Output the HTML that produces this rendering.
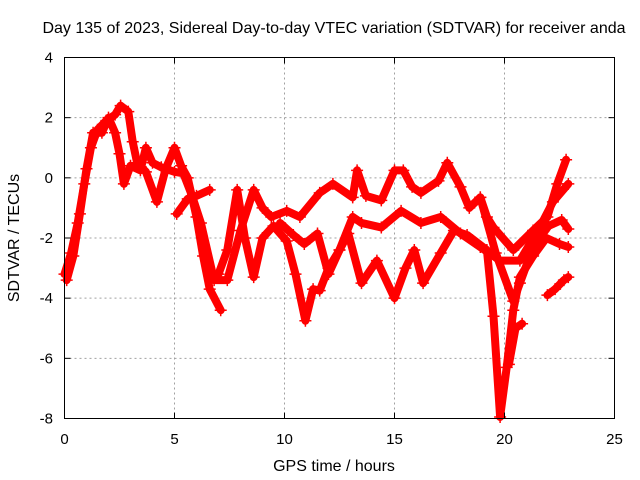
<!DOCTYPE html>
<html><head><meta charset="utf-8"><style>
html,body{margin:0;padding:0;background:#fff}
svg{display:block;font-family:"Liberation Sans",sans-serif}
</style></head><body>
<svg id="chart" width="640" height="480" viewBox="0 0 640 480" xmlns="http://www.w3.org/2000/svg">
<rect width="640" height="480" fill="#fff"/>
<text x="334" y="33" font-size="16" text-anchor="middle">Day 135 of 2023, Sidereal Day-to-day VTEC variation (SDTVAR) for receiver anda</text>
<g id="grid"></g>
<g id="series" fill="none" stroke="#ff0000"></g>
<rect x="64.5" y="57.5" width="550" height="361" fill="none" stroke="#000" stroke-width="1"/>
<g id="ticks"></g>
<text x="334" y="471" font-size="16" text-anchor="middle">GPS time / hours</text>
<text transform="translate(19,238) rotate(-90)" font-size="16" text-anchor="middle">SDTVAR / TECUs</text>
</svg>
<script>
const xTicks=[0,5,10,15,20,25];
const yTicks=[4,2,0,-2,-4,-6,-8];
const track1=[[0,-3.2],[0.3,-2.5],[0.6,-1.5],[0.9,-0.2],[1.2,1.0],[1.5,1.6],[1.9,1.9],[2.3,2.1],[2.55,2.4],[2.9,2.2],[3.1,1.2],[3.3,0.5],[3.7,0.2],[4.2,-0.8],[4.6,0.3],[5.0,1.0],[5.3,0.4],[5.6,0.0],[6.0,-1.3],[6.3,-2.6],[6.6,-3.7],[7.1,-4.4]];
const track2=[[0.1,-3.4],[0.4,-2.6],[0.7,-1.2],[1.0,0.3],[1.3,1.5],[1.7,1.5],[2.0,2.0],[2.3,1.5],[2.5,0.8],[2.7,-0.2],[3.0,0.4],[3.45,0.25],[3.7,1.0],[4.0,0.5],[4.4,0.35],[5.0,0.2],[5.4,0.15],[5.8,-0.6],[6.2,-1.5],[6.8,-3.4],[7.4,-3.4],[8.0,-1.75],[8.6,-0.4],[9.0,-1.0],[9.4,-1.3],[10.1,-1.1],[10.7,-1.3],[11.6,-0.5],[12.2,-0.2],[13.1,-0.65],[13.3,0.25],[13.7,-0.6],[14.4,-0.75],[15.0,0.25],[15.4,0.25],[15.8,-0.3],[16.2,-0.5],[17.0,-0.1],[17.4,0.5],[18.0,-0.3],[18.4,-1.0],[18.9,-0.65],[19.2,-1.3],[19.5,-1.65],[20.4,-2.4],[21.3,-1.75],[21.95,-1.3],[22.4,-0.2],[22.8,0.6]];
const track3=[[5.1,-1.2],[5.6,-0.7],[6.0,-0.6],[6.6,-0.4]];
const track4=[[7.0,-3.2],[7.4,-2.4],[7.85,-0.4],[8.2,-2.0],[8.6,-3.3],[9.0,-2.0],[9.5,-1.6],[10.1,-2.1],[10.5,-3.2],[10.95,-4.75],[11.3,-3.7],[11.6,-3.75],[12.0,-3.0],[12.5,-2.4],[13.1,-1.3],[13.5,-1.5],[14.4,-1.65],[15.3,-1.1],[16.2,-1.5],[17.1,-1.3],[18.0,-1.85],[18.9,-2.3],[19.8,-2.75],[20.7,-2.75],[21.6,-1.65],[22.2,-0.8],[22.9,-0.2]];
const track5=[[9.8,-1.5],[10.4,-1.9],[10.9,-2.2],[11.5,-1.85],[12.0,-3.2],[12.5,-2.4],[12.9,-1.85],[13.5,-3.5],[14.2,-2.75],[15.0,-4.0],[15.5,-3.0],[15.9,-2.4],[16.3,-3.5],[17.1,-2.5],[17.7,-1.75],[18.3,-1.9],[19.2,-2.4],[19.5,-4.6],[19.8,-7.95],[20.1,-6.3],[20.4,-4.4],[20.7,-3.3],[21.3,-2.6],[21.9,-2.0],[22.5,-2.2],[22.9,-2.3]];
const track6=[[18.9,-0.65],[19.6,-2.5],[20.4,-4.1],[20.7,-3.5],[21.3,-2.3],[22.0,-1.6],[22.6,-1.4],[22.9,-1.7]];
const track7=[[21.95,-3.9],[22.3,-3.7],[22.7,-3.4],[22.9,-3.3]];
const track8=[[20.2,-6.2],[20.5,-5.0],[20.8,-4.85]];
const tracks=[track1,track2,track3,track4,track5,track6,track7,track8];

const X0=64.5,X1=614.5,Y0=418.5,Y1=57.5;
const xs=v=>X0+(v-0)/(25-0)*(X1-X0);
const ys=v=>Y0-(v-(-8))/(4-(-8))*(Y0-Y1);
const NS="http://www.w3.org/2000/svg";
function mk(tag,attrs,parent){const e=document.createElementNS(NS,tag);for(const k in attrs)e.setAttribute(k,attrs[k]);parent.appendChild(e);return e;}
const grid=document.getElementById('grid'),ticks=document.getElementById('ticks'),series=document.getElementById('series');
xTicks.forEach(t=>{
  const x=xs(t);
  if(t>0&&t<25){const g=mk('line',{x1:x,x2:x,y1:Y1,y2:Y0,stroke:'#a0a0a0','stroke-dasharray':'2,3'},grid);
  
  }
  const a=mk('line',{x1:x,x2:x,y1:Y0,y2:Y0-6,stroke:'#000'},ticks);
  
  
  const b=mk('line',{x1:x,x2:x,y1:Y1,y2:Y1+6,stroke:'#000'},ticks);
  
  
  const l=mk('text',{x:x,y:444,'font-size':15,'text-anchor':'middle'},ticks);l.textContent=t;
  
  
});
yTicks.forEach(t=>{
  const y=ys(t);
  if(t>-8&&t<4){const g=mk('line',{x1:X0,x2:X1,y1:y,y2:y,stroke:'#a0a0a0','stroke-dasharray':'2,3'},grid);
  
  }
  const a=mk('line',{x1:X0,x2:X0+6,y1:y,y2:y,stroke:'#000'},ticks);
  
  
  const b=mk('line',{x1:X1,x2:X1-6,y1:y,y2:y,stroke:'#000'},ticks);
  
  
  const l=mk('text',{x:53,y:y+5,'font-size':15,'text-anchor':'end'},ticks);l.textContent=t;
  
  
});
tracks.forEach((tr,i)=>{
  const pl=mk('polyline',{points:tr.map(p=>xs(p[0])+','+ys(p[1])).join(' '),'stroke-width':8,'stroke-linejoin':'round','stroke-linecap':'round'},series);
  
  
  tr.forEach(p=>{
    const x=xs(p[0]),y=ys(p[1]);
    const m=mk('path',{d:`M${x-6},${y}H${x+6}M${x},${y-6}V${y+6}`,'stroke-width':1.5},series);
    
    
  });
});
</script>
</body></html>
